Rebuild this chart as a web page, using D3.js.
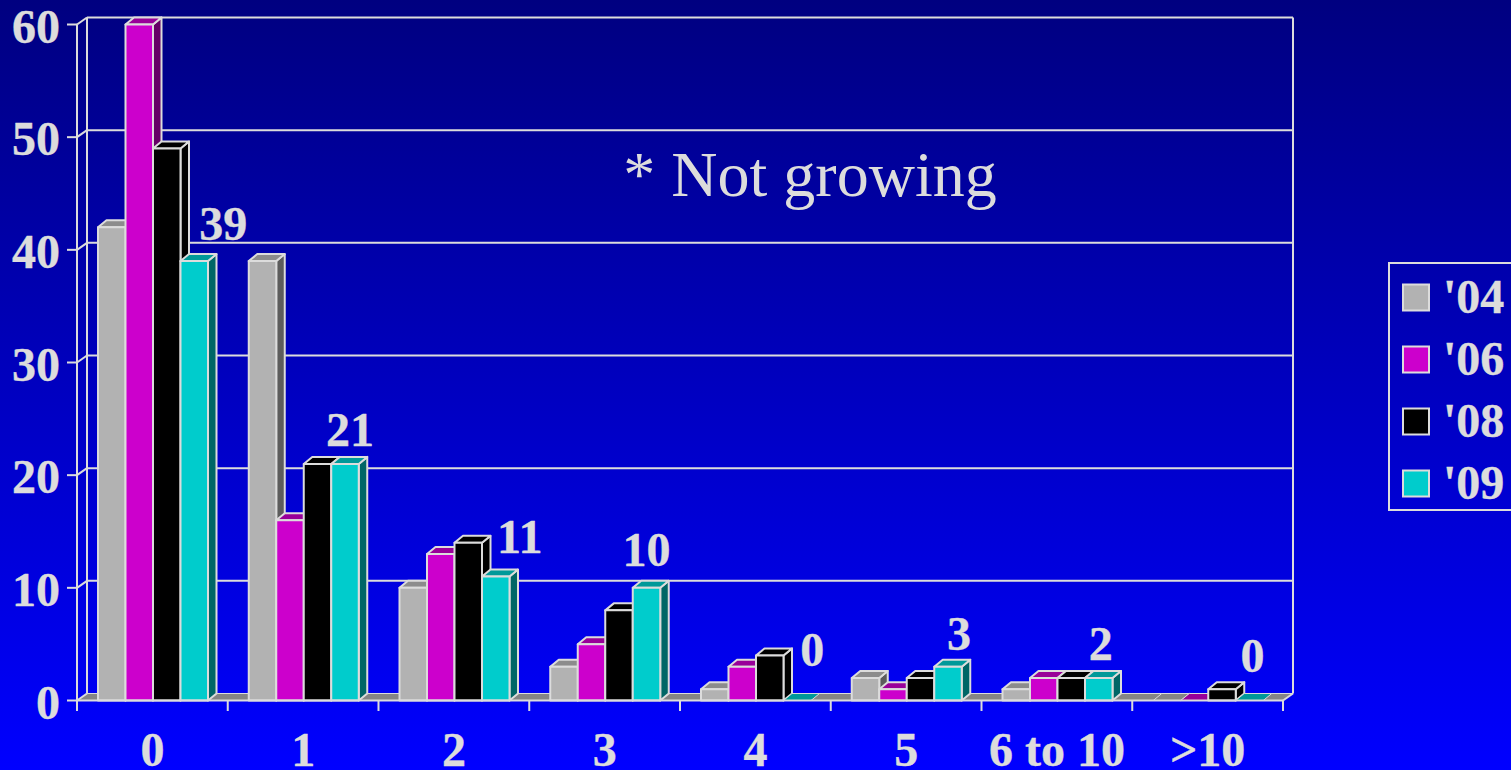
<!DOCTYPE html>
<html><head><meta charset="utf-8">
<script src="https://cdn.jsdelivr.net/npm/d3@7"></script>
<style>html,body{margin:0;padding:0;overflow:hidden;background:#00f}svg{display:block}</style>
</head><body><svg id="c" width="1511" height="770"></svg>
<script>
const categories = ["0","1","2","3","4","5","6 to 10",">10"];
const seriesNames = ["'04","'06","'08","'09"];
const values04 = [42,39,10,3,1,2,1,0];
const values06 = [60,16,13,5,3,1,2,0];
const values08 = [49,21,14,8,4,2,2,1];
const values09 = [39,21,11,10,0,3,2,0];
const yTicks = [0,10,20,30,40,50,60];
const series = [values04,values06,values08,values09];
const fronts = ["#b2b2b2","#cc00cc","#000000","#00cccc"];
const tops = ["#8c8c8c","#990099","#000000","#009999"];
const sides = ["#5c5c5c","#660066","#000000","#006666"];

const LINE="#dcdcdc", TXT="#dcdcdc", FONT="'Liberation Serif','Times New Roman',serif";
const svg=d3.select("#c");
const defs=svg.append("defs");
const g=defs.append("linearGradient").attr("id","bg").attr("x1",0).attr("x2",0).attr("y1",0).attr("y2",1);
g.append("stop").attr("offset",0).attr("stop-color","#000080");
g.append("stop").attr("offset",1).attr("stop-color","#0000ff");
svg.append("rect").attr("width",1511).attr("height",770).attr("fill","url(#bg)");

const x=d3.scaleBand().domain(categories).range([77,1283]);
const y=d3.scaleLinear().domain([0,60]).range([700.5,24.5]);
const wallDx=10, wallDy=-7, barDx=8.5, barDy=-7;
const inner=d3.scaleBand().domain(d3.range(4)).range([21,131]);
const line=(a,b,c,d,w=2)=>svg.append("line").attr("x1",a).attr("y1",b).attr("x2",c).attr("y2",d).attr("stroke",LINE).attr("stroke-width",w);
const poly=(p,f,sw=2)=>svg.append("polygon").attr("points",p.map(q=>q.join(",")).join(" ")).attr("fill",f).attr("stroke",LINE).attr("stroke-width",sw).attr("stroke-linejoin","round");

// floor
svg.append("polygon").attr("points",[[77,y(0)],[1283,y(0)],[1283+wallDx,y(0)+wallDy],[77+wallDx,y(0)+wallDy]].map(q=>q.join(",")).join(" ")).attr("fill","#858585");
// walls and grid
yTicks.forEach(t=>{
  line(67,y(t),77,y(t));
  line(77,y(t),77+wallDx,y(t)+wallDy);
  line(77+wallDx,y(t)+wallDy,1283+wallDx,y(t)+wallDy,t===0?1.2:2);
});
line(77,y(60),77,711);
line(87,y(60)+wallDy,87,y(0)+wallDy);
line(1293,y(60)+wallDy,1293,y(0)+wallDy);
line(1283,y(0),1293,y(0)+wallDy);
// bars
categories.forEach((c,i)=>{
  series.forEach((s,k)=>{
    const x0=x(c)+inner(k), x1=x0+inner.bandwidth(), yt=y(s[i]), yb=y(0);
    if(s[i]===0){
      const cr=k===0?"#858585":tops[k];
      poly([[x0,yb],[x1,yb],[x1+barDx,yb+barDy],[x0+barDx,yb+barDy]],cr,1);
      return;
    }
    poly([[x1,yt],[x1+barDx,yt+barDy],[x1+barDx,yb+barDy],[x1,yb]],sides[k]);
    poly([[x0,yt],[x1,yt],[x1+barDx,yt+barDy],[x0+barDx,yt+barDy]],tops[k]);
    poly([[x0,yt],[x1,yt],[x1,yb],[x0,yb]],fronts[k]);
  });
});
line(77,y(0),1283,y(0));
// category ticks at band edges
x.domain().concat([null]).forEach(c=>{const p=c===null?1283:x(c);line(p,y(0),p,711);});

// axes (labels only)
const ax=svg.append("g").attr("transform","translate(60,0)").call(d3.axisLeft(y).tickValues(yTicks).tickSize(0).tickPadding(0));
const bx=svg.append("g").attr("transform","translate(0,766)").call(d3.axisBottom(x).tickSize(0).tickPadding(0));
[ax,bx].forEach(a=>{a.select(".domain").remove();a.selectAll("text").attr("fill",TXT).attr("stroke",TXT).attr("stroke-width",0.4).attr("font-family",FONT).attr("font-weight","bold").attr("font-size",48);});
ax.selectAll("text").attr("dy",null).attr("y",17.5).attr("x",0);
bx.selectAll("text").attr("dy",null).attr("y",0);

// data labels ('09)
const labelDx=[29,5,24,0,15,11,2,3], labelDy=[-21,-18,-24,-22,-35,-17,-18,-29];
svg.append("g").selectAll("text").data(values09).join("text")
  .attr("x",(d,i)=>x(categories[i])+inner(3)+inner.bandwidth()/2+labelDx[i])
  .attr("y",(d,i)=>y(d)+labelDy[i])
  .attr("text-anchor","middle").attr("fill",TXT).attr("stroke",TXT).attr("stroke-width",0.4).attr("font-family",FONT).attr("font-weight","bold").attr("font-size",48)
  .text(d=>d);

svg.append("text").attr("x",810).attr("y",196).attr("text-anchor","middle").attr("fill",TXT).attr("font-family",FONT).attr("font-size",64).text("* Not growing");

// legend
svg.append("rect").attr("x",1389).attr("y",263).attr("width",140).attr("height",247).attr("fill","none").attr("stroke",LINE).attr("stroke-width",2);
const ly=d3.scalePoint().domain(seriesNames).range([284.5,470.5]);
seriesNames.forEach((n,k)=>{
  svg.append("rect").attr("x",1403).attr("y",ly(n)).attr("width",26).attr("height",26).attr("fill",fronts[k]).attr("stroke",LINE).attr("stroke-width",2);
  svg.append("text").attr("x",1443).attr("y",ly(n)+28).attr("fill",TXT).attr("stroke",TXT).attr("stroke-width",0.4).attr("font-family",FONT).attr("font-weight","bold").attr("font-size",48).text(n);
});
</script></body></html>
